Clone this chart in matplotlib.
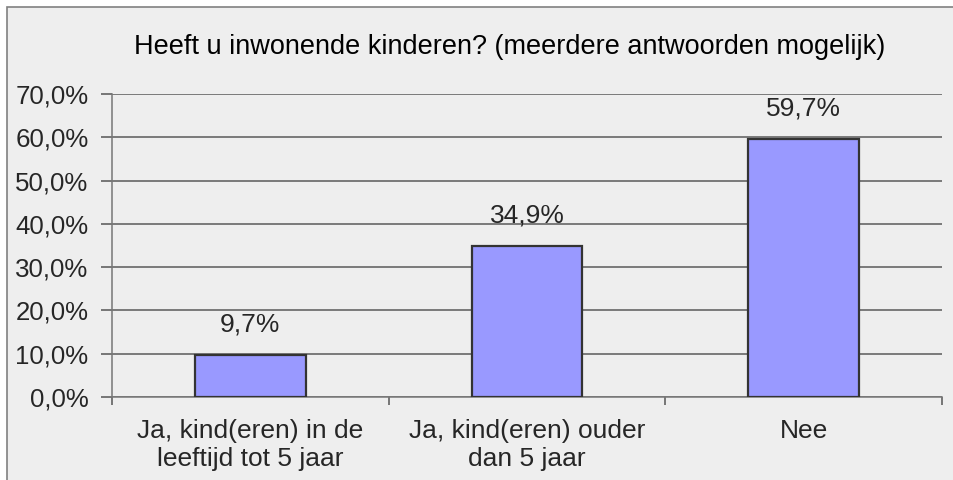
import matplotlib.pyplot as plt
from matplotlib.patches import Rectangle
from matplotlib.ticker import MultipleLocator, FuncFormatter

categories = ['Ja, kind(eren) in de\nleeftijd tot 5 jaar', 'Ja, kind(eren) ouder\ndan 5 jaar', 'Nee']
values = [9.7, 34.9, 59.7]
title = 'Heeft u inwonende kinderen? (meerdere antwoorden mogelijk)'

plt.rcParams['font.family'] = ['Liberation Sans', 'DejaVu Sans']
txt_color = '#262626'

fig = plt.figure(figsize=(9.54, 4.8), dpi=100)
fig.patch.set_facecolor('white')
# chart area with grey fill and left/top border
fig.patches.append(Rectangle((7 / 954, -0.1), 1.1, 1.1 - 7 / 480, transform=fig.transFigure,
                             facecolor='#eeeeee', edgecolor='#808080', linewidth=1.2, zorder=-5))

ax = fig.add_axes([112 / 954, 1 - 397 / 480, 830 / 954, 303 / 480])
ax.set_facecolor('none')

x = range(len(categories))
bars = ax.bar(x, values, width=0.4, color='#9999ff', edgecolor='#333333', linewidth=1.6, zorder=3)

ax.set_xlim(-0.5, len(categories) - 0.5)
ax.set_ylim(0, 70)
ax.yaxis.set_major_locator(MultipleLocator(10))
ax.yaxis.set_major_formatter(FuncFormatter(lambda v, p: f'{v:.1f}%'.replace('.', ',')))
ax.grid(axis='y', color='#5a5a5a', linewidth=1.1, zorder=1)

ax.set_xticks([i - 0.5 for i in range(len(categories) + 1)], minor=False)
ax.set_xticklabels([])
ax.set_xticks(list(x), minor=True)
ax.set_xticklabels(categories, minor=True, linespacing=1.2)
ax.tick_params(axis='x', which='major', length=6, color='#555555', width=1.1, direction='out')
ax.tick_params(axis='x', which='minor', length=0, pad=16, labelsize=19, labelcolor=txt_color)
ax.tick_params(axis='y', length=8, color='#555555', width=1.1, pad=9, labelsize=18.6, labelcolor=txt_color)

for s in ['top', 'right']:
    ax.spines[s].set_visible(False)
for s in ['left', 'bottom']:
    ax.spines[s].set_color('#777777')
    ax.spines[s].set_linewidth(1.1)

for b, v in zip(bars, values):
    ax.annotate(f'{v:.1f}%'.replace('.', ','), (b.get_x() + b.get_width() / 2, v),
                xytext=(0, 22), textcoords='offset points', ha='center', va='center',
                fontsize=19, color=txt_color)

fig.text(510 / 954, 1 - 47 / 480, title, ha='center', va='center', fontsize=19.5, color='black')

fig.savefig('out.png', dpi=100)
